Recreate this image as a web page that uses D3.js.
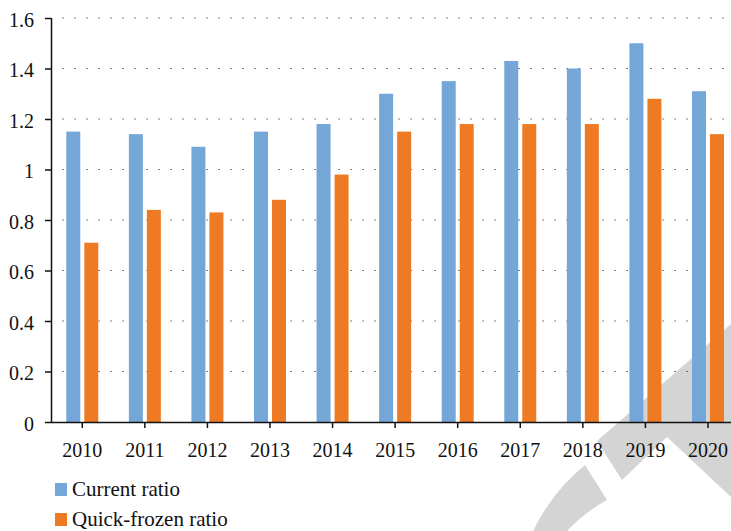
<!DOCTYPE html>
<html>
<head>
<meta charset="utf-8">
<script src="https://cdn.jsdelivr.net/npm/d3@7"></script>
<style>
  body { margin: 0; background: #fff; }
  svg { display: block; }
  text { font-family: "Liberation Serif", "Times New Roman", serif; fill: #111; }
</style>
</head>
<body>
<div id="chart"></div>
<script>
const years = ['2010','2011','2012','2013','2014','2015','2016','2017','2018','2019','2020'];
const currentRatio = [1.15, 1.14, 1.09, 1.15, 1.18, 1.30, 1.35, 1.43, 1.40, 1.50, 1.31];
const quickFrozenRatio = [0.71, 0.84, 0.83, 0.88, 0.98, 1.15, 1.18, 1.18, 1.18, 1.28, 1.14];
const yTicks = [0, 0.2, 0.4, 0.6, 0.8, 1, 1.2, 1.4, 1.6];
const seriesNames = ['Current ratio', 'Quick-frozen ratio'];
const colors = ['#74a6d7', '#ee7b24'];

let width = 731;
let height = 531;
let margin = {left: 51, top: 18, bottom: 422};

let svg = d3.select('#chart').append('svg')
    .attr('width', width)
    .attr('height', height);

// watermark in the back
let wm = svg.append('g').attr('fill', '#d4d4d4');
wm.append('path').attr('d', 'M597,441 L731,324 L731,497 L667,437 L622,480 Z');
wm.append('path').attr('d', 'M533,531 Q552,492 585,465 L607,500 Q585,512 567,531 Z');

let x = d3.scaleBand()
    .domain(years)
    .range([margin.left, margin.left + 62.57 * years.length])
    .padding(0);

let y = d3.scaleLinear()
    .domain([0, 1.6])
    .range([margin.bottom, margin.top]);

// dotted grid
svg.append('g')
    .selectAll('line')
    .data(yTicks.filter(d => d > 0))
    .enter()
    .append('line')
    .attr('x1', 62.5)
    .attr('x2', width)
    .attr('y1', d => y(d))
    .attr('y2', d => y(d))
    .style('stroke', '#333')
    .style('stroke-width', 1.2)
    .style('stroke-dasharray', '1.2,10.8');

let barW = 14;
let data = years.map((yr, i) => ({year: yr, vals: [currentRatio[i], quickFrozenRatio[i]]}));

let groups = svg.append('g')
    .selectAll('g')
    .data(data)
    .enter()
    .append('g');

groups.selectAll('rect')
    .data(d => d.vals.map((v, k) => ({year: d.year, v: v, k: k})))
    .enter()
    .append('rect')
    .attr('x', d => x(d.year) + x.bandwidth() / 2 + (d.k === 0 ? -2 - barW : 2))
    .attr('y', d => y(d.v))
    .attr('width', barW)
    .attr('height', d => y(0) - y(d.v))
    .attr('fill', d => colors[d.k]);

// axes
let yAxis = svg.append('g')
    .attr('transform', 'translate(' + margin.left + ',0)')
    .call(d3.axisLeft(y).tickValues(yTicks).tickSize(6).tickPadding(11).tickFormat(d => d3.format('')(d)));

let xAxis = svg.append('g')
    .attr('transform', 'translate(0,' + margin.bottom + ')')
    .call(d3.axisBottom(x).tickSize(6).tickPadding(15).tickSizeOuter(0));

xAxis.select('.domain').attr('d', 'M' + margin.left + ',0.5H' + width);

[yAxis, xAxis].forEach(function(ax) {
    ax.select('.domain').style('stroke', '#111').style('stroke-width', 1.5);
    ax.selectAll('.tick line').style('stroke', '#111').style('stroke-width', 1.5);
    ax.selectAll('text')
        .style('font-family', '"Liberation Serif", "Times New Roman", serif')
        .style('font-size', '20px')
        .style('fill', '#111');
});
yAxis.select('.domain').attr('d', 'M0.5,' + margin.top + 'V' + margin.bottom);
yAxis.selectAll('text').attr('dy', '0.4em');

// legend
let legend = svg.append('g');
seriesNames.forEach(function(name, i) {
    let ly = 483 + i * 30;
    legend.append('rect')
        .attr('x', 55)
        .attr('y', ly)
        .attr('width', 12)
        .attr('height', 13)
        .attr('fill', colors[i]);
    legend.append('text')
        .attr('x', 72)
        .attr('y', ly + 13)
        .style('font-size', '21px')
        .text(name);
});
</script>
</body>
</html>
